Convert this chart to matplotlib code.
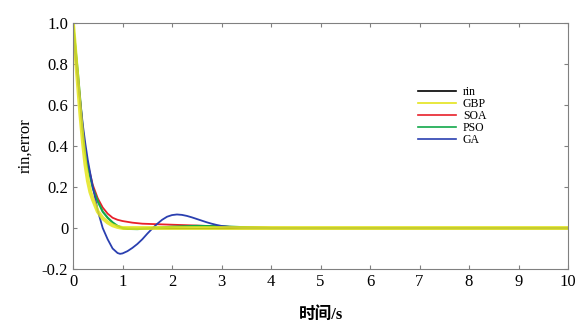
import matplotlib.pyplot as plt
from matplotlib.lines import Line2D

plt.rcParams['font.family'] = ['Liberation Serif', 'Noto Sans CJK SC']

# GA
t_ga = [0, 0.1, 0.2, 0.25, 0.3, 0.4, 0.5, 0.6, 0.7, 0.8, 0.9, 0.95, 1.0, 1.1, 1.2, 1.3, 1.4, 1.5,
        1.6, 1.7, 1.8, 1.9, 2.0, 2.1, 2.2, 2.3, 2.4, 2.5, 2.6, 2.7, 2.8, 2.9, 3.0, 3.2, 3.4, 3.6,
        4.0, 5.0, 10.0]
y_ga = [0.95, 0.72, 0.50, 0.41, 0.33, 0.20, 0.085, 0.0, -0.055, -0.10, -0.122, -0.126, -0.124,
        -0.113, -0.097, -0.078, -0.055, -0.028, -0.003, 0.02, 0.04, 0.055, 0.063, 0.066, 0.064,
        0.059, 0.052, 0.044, 0.036, 0.028, 0.021, 0.015, 0.01, 0.004, 0.001, 0.0, 0.0, 0.0, 0.0]

# SOA
t_soa = [0, 0.1, 0.2, 0.25, 0.3, 0.4, 0.5, 0.6, 0.7, 0.8, 0.9, 1.0, 1.2, 1.4, 2.0, 2.5, 3.0, 3.5,
         4.0, 5.0, 10.0]
y_soa = [1.0, 0.74, 0.47, 0.38, 0.31, 0.21, 0.145, 0.10, 0.07, 0.05, 0.04, 0.034, 0.026, 0.021,
         0.016, 0.012, 0.007, 0.003, 0.001, 0.0, 0.0]

# PSO
t_pso = [0, 0.1, 0.2, 0.25, 0.3, 0.4, 0.5, 0.6, 0.7, 0.8, 0.9, 1.0, 1.1, 1.3, 1.5, 2.0, 2.5, 3.0,
         3.5, 4.0, 10.0]
y_pso = [1.0, 0.75, 0.47, 0.37, 0.30, 0.195, 0.13, 0.08, 0.05, 0.027, 0.01, 0.0, -0.004, -0.005,
         -0.002, 0.006, 0.01, 0.008, 0.003, 0.0, 0.0]

# GBP
t_gbp = [0, 0.05, 0.1, 0.15, 0.2, 0.25, 0.3, 0.35, 0.4, 0.5, 0.6, 0.7, 0.8, 0.9, 1.0, 2.0, 10.0]
y_gbp = [1.0, 0.85, 0.70, 0.55, 0.42, 0.31, 0.23, 0.175, 0.14, 0.08, 0.048, 0.027, 0.013, 0.005,
         0.0, 0.0, 0.0]

# rin
t_rin = [1.0, 10.0]
y_rin = [0.0, 0.0]

fig = plt.figure(figsize=(5.76, 3.21), dpi=100)
ax = fig.add_axes([73 / 576, 1 - 269 / 321, (568 - 73) / 576, (269 - 23) / 321])

ax.plot(t_rin, y_rin, color='black', lw=1)
ax.plot(t_soa, y_soa, color='#e8202a', lw=1.3)
ax.plot(t_pso, y_pso, color='#12a84a', lw=1.6)
ax.plot(t_ga, y_ga, color='#2a3fb0', lw=1.3)
ax.plot(t_gbp, y_gbp, color='#e4e41c', lw=2.8, alpha=0.85)

ax.set_xlim(0, 10)
ax.set_ylim(-0.2, 1.0)
ax.set_xticks(range(0, 11))
ax.set_yticks([-0.2, 0, 0.2, 0.4, 0.6, 0.8, 1.0])
ax.set_yticklabels(['-0.2', '0', '0.2', '0.4', '0.6', '0.8', '1.0'])
ax.tick_params(direction='in', top=True, right=True, length=3, labelsize=12, color='#808080')
for s in ax.spines.values():
    s.set_color('#808080')

ax.set_xlabel('时间/s', fontsize=12, fontweight='bold', labelpad=12)
ax.set_ylabel('rin,error', fontsize=12, labelpad=6)

colors = ['black', '#e4e41c', '#e8202a', '#12a84a', '#2a3fb0']
labels = ['rin', 'GBP', 'SOA', 'PSO', 'GA']
handles = [Line2D([], [], color=c, lw=1.2) for c in colors]
ax.legend(handles, labels, loc='upper left', bbox_to_anchor=(412 / 576, 1 - 80 / 321),
          bbox_transform=fig.transFigure, frameon=False, fontsize=8.5, borderpad=0,
          handlelength=3.2, handletextpad=0.6, labelspacing=0.0)

fig.savefig('out.png', dpi=100)
